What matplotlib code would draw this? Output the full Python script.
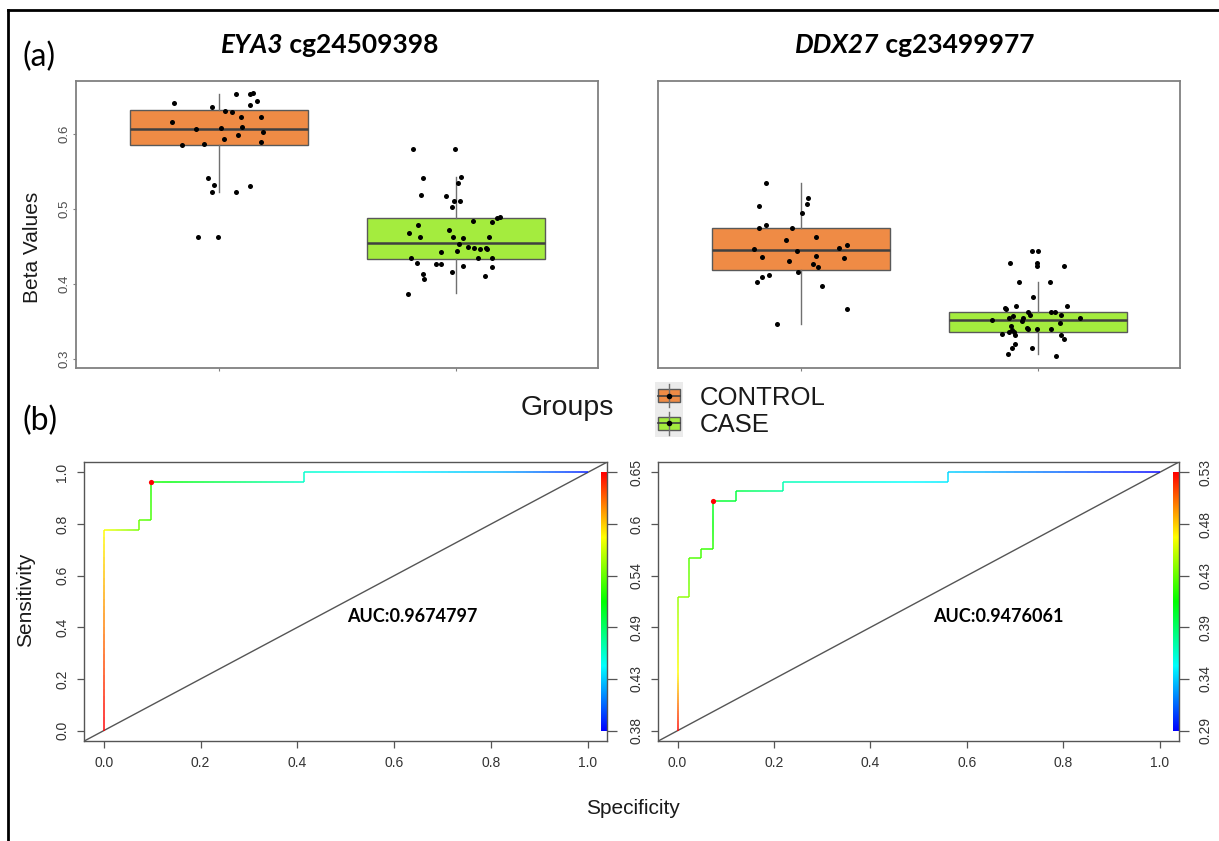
import numpy as np
import matplotlib
matplotlib.use('Agg')
import matplotlib.pyplot as plt
from matplotlib.collections import LineCollection
from matplotlib.colors import ListedColormap, Normalize, hsv_to_rgb
from matplotlib.lines import Line2D
from matplotlib.patches import Rectangle

W, H = 1219, 841
R_FONT = 'Liberation Sans'
DOC_FONT = 'Lato'

groups = ['CONTROL', 'CASE']
box_colors = ['#EF8B45', '#A4EC3E']

# EYA3 cg24509398 beta values (with horizontal jitter of each dot)
eya3_control = [0.641, 0.653, 0.653, 0.654, 0.644, 0.638, 0.636, 0.630, 0.629, 0.623,
                0.622, 0.616, 0.606, 0.608, 0.609, 0.602, 0.598, 0.593, 0.585, 0.587,
                0.589, 0.541, 0.532, 0.531, 0.523, 0.522, 0.462, 0.462]
eya3_control_jit = [-0.188, 0.075, 0.13, 0.145, 0.163, 0.133, -0.027, 0.027, 0.058, 0.095,
                    0.18, -0.198, -0.095, 0.008, 0.097, 0.187, 0.08, 0.022, -0.155, -0.06,
                    0.177, -0.047, -0.02, 0.133, -0.03, 0.072, -0.088, -0.002]
eya3_case = [0.580, 0.580, 0.541, 0.542, 0.534, 0.519, 0.517, 0.510, 0.510, 0.503,
             0.489, 0.488, 0.484, 0.483, 0.478, 0.472, 0.468, 0.462, 0.463, 0.461,
             0.462, 0.453, 0.449, 0.448, 0.447, 0.448, 0.446, 0.442, 0.444, 0.434,
             0.435, 0.434, 0.428, 0.426, 0.427, 0.424, 0.423, 0.416, 0.411, 0.413,
             0.406, 0.387]
eya3_case_jit = [-0.183, -0.003, -0.137, 0.02, 0.008, -0.148, -0.04, -0.007, 0.017, -0.017,
                 0.185, 0.175, 0.072, 0.153, -0.158, -0.028, -0.198, -0.153, -0.013, 0.03,
                 0.138, 0.015, 0.05, 0.075, 0.1, 0.128, 0.13, -0.063, 0.005, -0.188,
                 0.093, 0.153, -0.162, -0.083, -0.065, 0.03, 0.153, -0.017, 0.123, -0.137,
                 -0.133, -0.202]

# DDX27 cg23499977 beta values
ddx27_control = [0.534, 0.514, 0.506, 0.494, 0.504, 0.479, 0.475, 0.474, 0.463, 0.458,
                 0.446, 0.444, 0.448, 0.452, 0.436, 0.437, 0.431, 0.435, 0.427, 0.423,
                 0.416, 0.412, 0.409, 0.403, 0.397, 0.367, 0.347]
ddx27_control_jit = [-0.145, 0.032, 0.029, 0.006, -0.177, -0.145, -0.174, -0.035, 0.066, -0.06,
                     -0.198, -0.013, 0.161, 0.195, -0.164, 0.063, -0.048, 0.184, 0.053, 0.072,
                     -0.01, -0.135, -0.163, -0.184, 0.092, 0.196, -0.098]
ddx27_case = [0.444, 0.444, 0.428, 0.424, 0.428, 0.424, 0.402, 0.402, 0.382, 0.368,
              0.367, 0.370, 0.371, 0.362, 0.363, 0.362, 0.358, 0.359, 0.357, 0.355,
              0.354, 0.351, 0.355, 0.352, 0.348, 0.344, 0.341, 0.340, 0.340, 0.340,
              0.338, 0.336, 0.336, 0.333, 0.332, 0.332, 0.327, 0.320, 0.314, 0.314,
              0.307, 0.304]
ddx27_case_jit = [-0.023, 0.0, -0.002, -0.002, -0.116, 0.111, -0.081, 0.052, -0.018, -0.137,
                  -0.132, -0.093, 0.124, -0.04, 0.058, 0.074, -0.034, 0.1, -0.105, -0.121,
                  -0.061, -0.068, 0.177, -0.193, 0.095, -0.114, -0.045, -0.04, -0.003, 0.055,
                  -0.11, -0.119, -0.1, -0.151, -0.097, 0.097, 0.111, -0.095, -0.108, -0.024,
                  -0.126, 0.077]

# box statistics per group: lower whisker, q1, median, q3, upper whisker
eya3_stats = [[0.522, 0.585, 0.607, 0.632, 0.653], [0.388, 0.433, 0.454, 0.488, 0.542]]
ddx27_stats = [[0.347, 0.419, 0.445, 0.475, 0.534], [0.306, 0.336, 0.352, 0.363, 0.402]]

# ROC steps as counts of false / true positives, cutoff at each vertex
n_neg, n_pos = 41, 27
eya3_fp = [0, 0, 3, 3, 4, 4, 17, 17, 33, 41]
eya3_tp = [0, 21, 21, 22, 22, 26, 26, 27, 27, 27]
eya3_cut = [0.654, 0.582, 0.545, 0.541, 0.534, 0.522, 0.462, 0.461, 0.43, 0.387]
eya3_best = 5
eya3_bar = ['0.38', '0.43', '0.49', '0.54', '0.6', '0.65']

ddx27_fp = [0, 0, 0, 1, 1, 2, 2, 3, 3, 5, 5, 9, 9, 23, 23, 41]
ddx27_tp = [0, 6, 14, 14, 18, 18, 19, 19, 24, 24, 25, 25, 26, 26, 27, 27]
ddx27_cut = [0.53, 0.47, 0.445, 0.441, 0.43, 0.426, 0.424, 0.42, 0.40, 0.398,
             0.395, 0.372, 0.368, 0.345, 0.34, 0.29]
ddx27_best = 8
ddx27_bar = ['0.29', '0.34', '0.39', '0.43', '0.48', '0.53']

# red -> blue rainbow like R's rainbow(start=0, end=4/6), low values blue
hues = np.linspace(2 / 3, 0, 256)
rainbow = ListedColormap(hsv_to_rgb(np.column_stack([hues, np.ones(256), np.ones(256)])))

fig = plt.figure(figsize=(W / 100, H / 100), dpi=100)


def px_axes(x0, y0, x1, y1):
    return fig.add_axes([x0 / W, 1 - y1 / H, (x1 - x0) / W, (y1 - y0) / H])


def box_panel(ax, stats, values, jitters, show_y):
    bstats = [dict(whislo=s[0], q1=s[1], med=s[2], q3=s[3], whishi=s[4], fliers=[]) for s in stats]
    bp = ax.bxp(bstats, positions=[1, 2], widths=0.75, patch_artist=True,
                showcaps=False, showfliers=False,
                boxprops=dict(edgecolor='#595959', linewidth=1.0),
                medianprops=dict(color='#404040', linewidth=1.8),
                whiskerprops=dict(color='#707070', linewidth=1.0))
    for patch, c in zip(bp['boxes'], box_colors):
        patch.set_facecolor(c)
    for pos, v, j in zip([1, 2], values, jitters):
        ax.scatter(pos + np.array(j), v, s=13, color='black', linewidths=0, zorder=3)
    ax.set_xlim(0.4, 2.6)
    ax.set_ylim(0.288, 0.671)
    ax.set_xticks([1, 2])
    ax.set_xticklabels([])
    for sp in ax.spines.values():
        sp.set_color('#808080')
        sp.set_linewidth(1.3)
    ax.tick_params(colors='#808080', length=2.5, width=0.8)
    if show_y:
        ax.set_yticks([0.3, 0.4, 0.5, 0.6])
        ax.set_yticklabels(['0.3', '0.4', '0.5', '0.6'], rotation=90, va='center',
                           color='#4d4d4d', fontsize=9.5, family=R_FONT)
        ax.tick_params(axis='y', pad=2)
        ax.set_ylabel('Beta Values', fontsize=15, family=R_FONT, color='#1a1a1a', va='center')
        ax.yaxis.set_label_coords(-0.083, 0.42)
    else:
        ax.set_yticks([])


def roc_panel(ax, fp, tp, cut, best, bar_labels, auc_x, show_left):
    fpr = np.array(fp) / n_neg
    tpr = np.array(tp) / n_pos
    auc = np.trapezoid(tpr, fpr)
    lo, hi = float(bar_labels[0]), float(bar_labels[-1])

    ax.axline((0, 0), slope=1, color='#555555', lw=1.0, zorder=1)

    # curve coloured by cutoff, each step split finely for the gradient
    xs, ys, cs = [], [], []
    for i in range(len(fpr) - 1):
        t = np.linspace(0, 1, 30)
        xs.append(fpr[i] + t * (fpr[i + 1] - fpr[i]))
        ys.append(tpr[i] + t * (tpr[i + 1] - tpr[i]))
        cs.append(cut[i] + t * (cut[i + 1] - cut[i]))
    xs, ys, cs = map(np.concatenate, (xs, ys, cs))
    pts = np.column_stack([xs, ys]).reshape(-1, 1, 2)
    segs = np.concatenate([pts[:-1], pts[1:]], axis=1)
    lc = LineCollection(segs, cmap=rainbow, norm=Normalize(lo, hi), linewidths=1.4, alpha=0.75, zorder=2)
    lc.set_array((cs[:-1] + cs[1:]) / 2)
    ax.add_collection(lc)
    ax.scatter([fpr[best]], [tpr[best]], s=14, color='red', linewidths=0, zorder=4)

    ax.imshow(np.linspace(0, 1, 256)[:, None], extent=(1.027, 1.039, 0, 1), origin='lower',
              cmap=rainbow, aspect='auto', zorder=1)

    ax.text(auc_x, 0.442, f'AUC:{auc:.7f}', ha='center', va='center', fontsize=13,
            fontweight='bold', family=DOC_FONT)

    ax.set_xlim(-0.04, 1.04)
    ax.set_ylim(-0.04, 1.04)
    ticks = [0, 0.2, 0.4, 0.6, 0.8, 1.0]
    ax.set_xticks(ticks)
    ax.set_xticklabels(['0.0', '0.2', '0.4', '0.6', '0.8', '1.0'], fontsize=10,
                       family=R_FONT, color='#333333')
    ax.set_yticks(ticks)
    if show_left:
        ax.set_yticklabels(['0.0', '0.2', '0.4', '0.6', '0.8', '1.0'], rotation=90, va='center',
                           fontsize=10, family=R_FONT, color='#333333')
        ax.set_ylabel('Sensitivity', fontsize=15, family=R_FONT, color='#1a1a1a', va='center')
        ax.yaxis.set_label_coords(-0.113, 0.505)
    else:
        ax.set_yticklabels([])
    ax.tick_params(length=5, width=0.9, color='#555555', pad=6)
    for sp in ax.spines.values():
        sp.set_color('#555555')
        sp.set_linewidth(1.0)

    tw = ax.twinx()
    tw.set_ylim(ax.get_ylim())
    tw.set_yticks(ticks)
    tw.set_yticklabels(bar_labels, rotation=90, va='center', fontsize=10,
                       family=R_FONT, color='#333333')
    tw.tick_params(length=7, width=0.9, color='#555555', pad=9 if show_left else 7)
    for sp in tw.spines.values():
        sp.set_visible(False)


# (a) box plots
ax1 = px_axes(76.3, 80.7, 598.3, 368)
box_panel(ax1, eya3_stats, [eya3_control, eya3_case], [eya3_control_jit, eya3_case_jit], True)
ax2 = px_axes(658.3, 80.7, 1180, 368)
box_panel(ax2, ddx27_stats, [ddx27_control, ddx27_case], [ddx27_control_jit, ddx27_case_jit], False)

# (b) ROC curves
ax3 = px_axes(84.3, 462, 607.3, 741)
roc_panel(ax3, eya3_fp, eya3_tp, eya3_cut, eya3_best, eya3_bar, 0.637, True)
ax4 = px_axes(658.3, 462, 1179, 741)
roc_panel(ax4, ddx27_fp, ddx27_tp, ddx27_cut, ddx27_best, ddx27_bar, 0.665, False)

fig.text(633 / W, 1 - 808 / H, 'Specificity', ha='center', va='center', fontsize=15,
         family=R_FONT, color='#1a1a1a')

# panel titles: italic gene name followed by the probe id
for split, gene, probe in [(283, 'EYA3', ' cg24509398'), (879, 'DDX27', ' cg23499977')]:
    fig.text(split / W, 1 - 45 / H, gene, ha='right', va='center', fontsize=19,
             fontweight='bold', fontstyle='italic', family=DOC_FONT)
    fig.text(split / W, 1 - 45 / H, probe, ha='left', va='center', fontsize=19,
             fontweight='bold', family=DOC_FONT)

fig.text(22 / W, 1 - 57 / H, '(a)', ha='left', va='center', fontsize=23, family=DOC_FONT)
fig.text(22 / W, 1 - 421 / H, '(b)', ha='left', va='center', fontsize=23, family=DOC_FONT)

# shared legend with boxplot keys
fig.text(567 / W, 1 - 408 / H, 'Groups', ha='center', va='center', fontsize=20.5,
         family=R_FONT, color='#1a1a1a')
kax = px_axes(655, 382, 683, 437)
kax.set_facecolor('#ebebeb')
kax.set_xlim(0, 1)
kax.set_ylim(0, 2)
kax.set_xticks([])
kax.set_yticks([])
for sp in kax.spines.values():
    sp.set_visible(False)
for k, (name, c) in enumerate(zip(groups, box_colors)):
    yc = 1.5 - k
    kax.plot([0.5, 0.5], [yc - 0.42, yc + 0.42], color='#707070', lw=1.0)
    kax.add_patch(Rectangle((0.1, yc - 0.24), 0.8, 0.48, facecolor=c, edgecolor='#595959', lw=1.0))
    kax.plot([0.1, 0.9], [yc, yc], color='#404040', lw=1.2)
    kax.scatter([0.5], [yc], s=16, color='black', linewidths=0, zorder=3)
    fig.text(700 / W, 1 - (398 + 27 * k) / H, name, ha='left', va='center', fontsize=18.5,
             family=R_FONT, color='#1a1a1a')

# outer frame, top and left edges
fig.add_artist(Line2D([8 / W, 1], [1 - 9.5 / H] * 2, color='black', lw=2, transform=fig.transFigure))
fig.add_artist(Line2D([8 / W] * 2, [0, 1 - 9.5 / H], color='black', lw=2, transform=fig.transFigure))

fig.savefig('out.png', dpi=100)
